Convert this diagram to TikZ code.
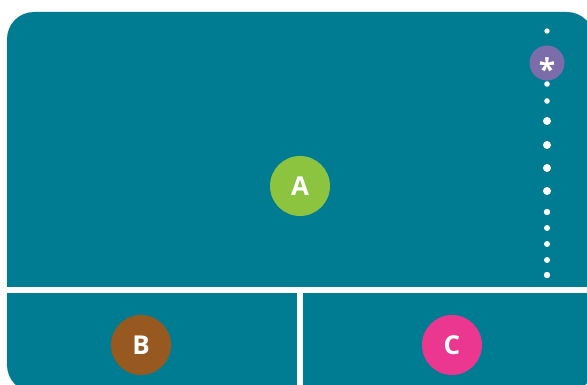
\documentclass[tikz,border=0pt]{standalone}
\usepackage{fontspec}
\setmainfont{Open Sans}
\usetikzlibrary{positioning}
\definecolor{panelteal}{HTML}{007C92}
\definecolor{dotgreen}{HTML}{8CC43F}
\definecolor{dotbrown}{HTML}{97591F}
\definecolor{dotpink}{HTML}{EC3791}
\definecolor{dotpurple}{HTML}{7B6CAA}
\tikzset{
  badge/.style={circle, minimum size=60pt, inner sep=0pt, text=white,
                font=\fontsize{26}{26}\selectfont\bfseries},
  starbadge/.style={badge, minimum size=35pt, font=\fontsize{30}{30}\selectfont\bfseries},
  gap/.style={fill=white},
}
\begin{document}
\begin{tikzpicture}[x=1pt, y=-1pt]
  \useasboundingbox (0,0) rectangle (587,385);
  \fill[white] (0,0) rectangle (587,385);
  \clip (0,0) rectangle (587,385);
  % panels
  \fill[panelteal, rounded corners=27pt] (7,12) rectangle (594,392);
  \fill[gap] (0,287) rectangle (600,293);
  \fill[gap] (297,293) rectangle (303,400);
  % dotted rail
  \foreach \y/\r in {31/2.7, 84/2.8, 101/2.8, 121/4, 145/4, 168/4, 191/4,
                     212/3.2, 228/3, 244/3, 260/3, 275/3.2}
    \fill[white] (547,\y) circle (\r);
  % badges
  \node[badge, fill=dotgreen] (A) at (300,186) {A};
  \node[badge, fill=dotbrown] (B) at (141,345) {B};
  \node[badge, fill=dotpink] (C) at (452,345) {C};
  \node[starbadge, fill=dotpurple] (star) at (547,63) {\smash{\raisebox{-0.6em}{*}}};
\end{tikzpicture}
\end{document}
